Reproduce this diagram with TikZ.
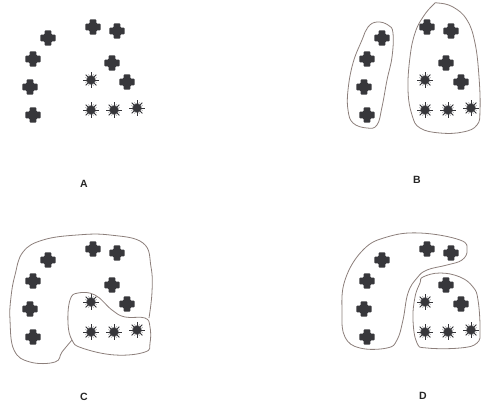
\documentclass[tikz,border=0pt]{standalone}
\usepackage{fontspec}
\setsansfont{Liberation Sans}
\definecolor{markInk}{HTML}{37373B}
\definecolor{blobLine}{HTML}{8C7F7B}
\usepackage{tikz}
\usetikzlibrary{positioning}

\tikzset{
  plusmark/.pic={
    \fill[markInk, rounded corners=0.8pt] (-3.4,-7.6) -- (3.4,-7.6) -- (3.4,-3.4) -- (7.6,-3.4)
      -- (7.6,3.4) -- (3.4,3.4) -- (3.4,7.6) -- (-3.4,7.6) -- (-3.4,3.4) -- (-7.6,3.4)
      -- (-7.6,-3.4) -- (-3.4,-3.4) -- cycle;
  },
  sunmark/.pic={
    \fill[markInk] (0,0) circle (4.6);
    \foreach \ang in {0,45,...,315}
      \draw[markInk, line width=0.8pt] (\ang:4) -- (\ang:7.6);
    \foreach \ang in {22.5,67.5,...,337.5}
      \draw[markInk!60, line width=0.5pt] (\ang:4) -- (\ang:6.2);
  },
}

\newcommand{\dotpanel}{%
  \foreach \px/\py in {48/38, 33/59, 30/87, 33/115, 93/27, 117/31, 112/63, 127/82}
    \pic at (\px,\py) {plusmark};
  \foreach \px/\py in {91/80, 91/110, 114/110, 137/108}
    \pic at (\px,\py) {sunmark};
}

\begin{document}
\begin{tikzpicture}[
    x=1pt, y=-1pt,
    blob/.style={draw=blobLine, line width=0.8pt},
    tag/.style={font=\sffamily\bfseries\fontsize{10.5}{12}\selectfont, text=black!85, inner sep=0pt},
  ]
  \useasboundingbox (0,0) rectangle (481,412);

  % A: the points
  \begin{scope}
    \dotpanel
  \end{scope}
  \node[tag] (tagA) at (84,184) {A};

  % B
  \begin{scope}[shift={(334,0)}]
    \dotpanel
    \draw[blob] plot[smooth cycle, tension=0.7] coordinates {
      (43,22) (54,25) (59,33) (58,57) (53,80) (48,107) (43,125) (33,128)
      (19,123) (14,110) (14,90) (19,63) (28,40) (34,27)};
    \draw[blob] plot[smooth cycle, tension=0.7] coordinates {
      (104,3) (119,7) (133,20) (141,43) (145,77) (146,110) (143,125) (129,132)
      (106,133) (86,128) (78,115) (74,90) (76,57) (81,33) (89,17) (99,5)};
  \end{scope}
  \node[tag] (tagB) at (417,180) {B};

  % C
  \begin{scope}[shift={(0,222)}]
    \dotpanel
    \draw[blob] plot[smooth cycle, tension=0.7] coordinates {
      (78,71) (95,73) (112,88) (125,95) (145,96) (150,105) (150,121) (145,130)
      (115,133) (82,126) (72,118) (68,101) (70,78)};
    \draw[blob] plot[smooth, tension=0.7] coordinates {
      (149,96) (152,70) (151,45) (143,21) (110,13) (77,13) (43,18) (23,30)
      (15,53) (11,75) (10,98) (14,128) (30,140) (55,140) (62,130) (72,118)};
  \end{scope}
  \node[tag] (tagC) at (84,397) {C};

  % D
  \begin{scope}[shift={(334,222)}]
    \dotpanel
    \draw[blob] plot[smooth cycle, tension=0.7] coordinates {
      (86,11) (126,18) (133,28) (128,38) (113,43) (93,48) (83,56) (74,71)
      (69,98) (63,118) (53,126) (26,126) (11,115) (8,91) (11,58) (29,28) (53,15)};
    \draw[blob] plot[smooth cycle, tension=0.7] coordinates {
      (89,55) (106,51) (126,55) (139,65) (144,78) (146,108) (143,121) (126,126)
      (93,126) (83,121) (79,98) (81,75) (86,61)};
  \end{scope}
  \node[tag] (tagD) at (423,396) {D};
\end{tikzpicture}
\end{document}
